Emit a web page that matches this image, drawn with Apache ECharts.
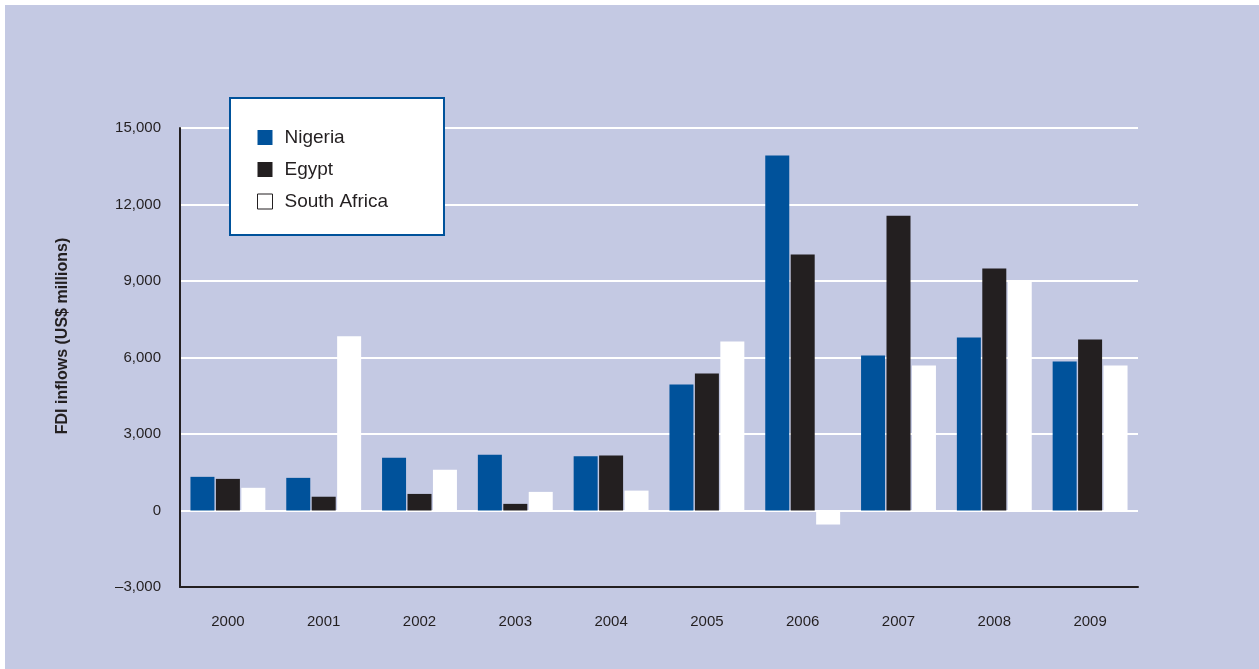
<!DOCTYPE html>
<html>
<head>
<meta charset="utf-8">
<script src="https://cdn.jsdelivr.net/npm/echarts@6/dist/echarts.min.js"></script>
<style>
  html, body { margin: 0; padding: 0; background: #fff; }
  #chart { width: 1259px; height: 669px; }
</style>
</head>
<body>
<div id="chart"></div>
<script>
const years = ['2000', '2001', '2002', '2003', '2004', '2005', '2006', '2007', '2008', '2009']
const nigeria = [1320, 1280, 2070, 2190, 2130, 4940, 13920, 6080, 6780, 5840]
const egypt = [1240, 540, 650, 260, 2160, 5370, 10040, 11560, 9490, 6710]
const southAfrica = [890, 6830, 1600, 730, 780, 6630, -550, 5690, 8980, 5690]
const yTicks = [-3000, 0, 3000, 6000, 9000, 12000, 15000]

const font = '"Liberation Sans", Arial, sans-serif'
const ink = '#231f20'
const blue = '#00529b'

let chart = echarts.init(document.getElementById('chart'))

chart.setOption({
  backgroundColor: '#fff',
  animation: false,
  textStyle: { fontFamily: font },
  graphic: [
    {
      type: 'rect', z: -10, silent: true,
      shape: { x: 5, y: 5, width: 1254, height: 664 },
      style: { fill: '#c4c9e3' }
    },
    {
      type: 'text', x: 63, y: 336, rotation: Math.PI / 2,
      style: {
        text: 'FDI inflows (US$ millions)',
        font: 'bold 16px ' + font,
        fill: ink, align: 'center', verticalAlign: 'middle'
      }
    }
  ],
  legend: {
    orient: 'vertical',
    left: 230, top: 98,
    backgroundColor: '#fff',
    borderColor: blue, borderWidth: 2,
    padding: [30, 56, 24, 27],
    icon: 'rect',
    itemWidth: 15, itemHeight: 15,
    itemGap: 13, itemTextGap: 12,
    textStyle: { fontFamily: font, fontSize: 19, color: ink, padding: [0, 0, 0, 7] },
    data: [
      { name: 'Nigeria' },
      { name: 'Egypt' },
      { name: 'South Africa', itemStyle: { borderColor: ink, borderWidth: 1 } }
    ]
  },
  grid: { left: 180, right: 121, top: 128, bottom: 82, containLabel: false },
  xAxis: {
    type: 'category',
    data: years,
    axisLine: { onZero: false, lineStyle: { color: ink, width: 2 } },
    axisTick: { inside: true, alignWithLabel: true, length: 11, lineStyle: { color: ink, width: 3 } },
    axisLabel: { color: ink, fontSize: 15, margin: 27, fontFamily: font },
    splitLine: { show: false }
  },
  yAxis: {
    type: 'value',
    min: yTicks[0], max: yTicks[yTicks.length - 1], interval: 3000,
    axisLine: { show: true, lineStyle: { color: ink, width: 2 } },
    axisTick: { show: false },
    axisLabel: {
      color: ink, fontSize: 15, margin: 19, fontFamily: font,
      formatter: v => v < 0 ? '\u2013' + Math.abs(v).toLocaleString('en-US') : v.toLocaleString('en-US')
    },
    splitLine: { lineStyle: { color: '#fff', width: 2 } }
  },
  series: [
    { name: 'Nigeria', type: 'bar', data: nigeria, barWidth: 24, barGap: '6%', itemStyle: { color: blue } },
    { name: 'Egypt', type: 'bar', data: egypt, barWidth: 24, barGap: '6%', itemStyle: { color: ink } },
    { name: 'South Africa', type: 'bar', data: southAfrica, barWidth: 24, barGap: '6%', itemStyle: { color: '#fff' } }
  ]
})
</script>
</body>
</html>
